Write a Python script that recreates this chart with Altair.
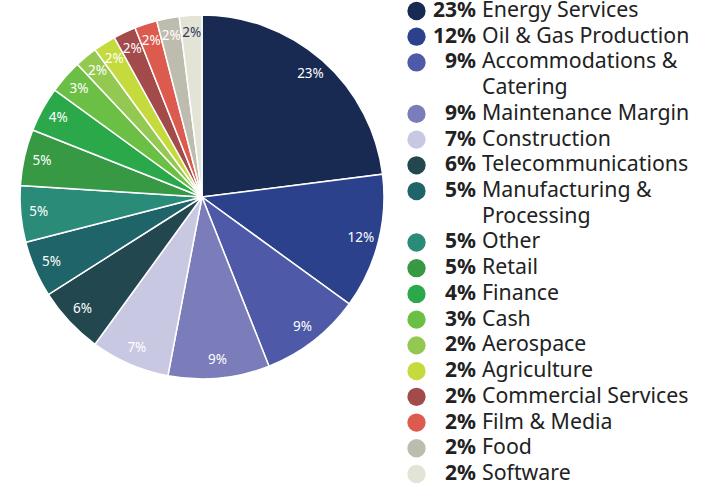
import altair as alt
import pandas as pd

sectors = ["Energy Services", "Oil & Gas Production", "Accommodations & Catering",
           "Maintenance Margin", "Construction", "Telecommunications",
           "Manufacturing & Processing", "Other", "Retail", "Finance", "Cash",
           "Aerospace", "Agriculture", "Commercial Services", "Film & Media",
           "Food", "Software"]
pcts = [23, 12, 9, 9, 7, 6, 5, 5, 5, 4, 3, 2, 2, 2, 2, 2, 2]
colors = ["#182a52", "#2b418c", "#4e5aa7", "#7a7db9", "#c9c8e3", "#23474f",
          "#1f6469", "#2a8c78", "#379944", "#2aa84a", "#6cbf45", "#93c951",
          "#c5db3d", "#a34a4b", "#dd5a4f", "#bebcae", "#e3e3d6"]
label_colors = ["white"] * 16 + ["#2d3b5c"]
# legend lines (second line for long names)
legend_lines = [["Energy Services"], ["Oil & Gas Production"], ["Accommodations &", "Catering"],
                ["Maintenance Margin"], ["Construction"], ["Telecommunications"],
                ["Manufacturing &", "Processing"], ["Other"], ["Retail"], ["Finance"],
                ["Cash"], ["Aerospace"], ["Agriculture"], ["Commercial Services"],
                ["Film & Media"], ["Food"], ["Software"]]

FONT = "Noto Sans"

pie_df = pd.DataFrame({
    "sector": sectors,
    "pct": pcts,
    "idx": list(range(len(sectors))),
    "label": [f"{p}%" for p in pcts],
    "lc": label_colors,
})

base = alt.Chart(pie_df).encode(
    theta=alt.Theta("pct:Q", stack=True),
    order=alt.Order("idx:Q"),
)
arcs = base.mark_arc(outerRadius=182, stroke="white", strokeWidth=1.5).encode(
    color=alt.Color("sector:N", scale=alt.Scale(domain=sectors, range=colors), legend=None)
)
labels = base.mark_text(radius=164, font=FONT, fontSize=13.5).encode(
    text="label:N",
    color=alt.Color("lc:N", scale=None),
)
pie = (arcs + labels).properties(width=404, height=394)

# legend data
rows_main, rows_line = [], []
r = 0
for i, lines in enumerate(legend_lines):
    rows_main.append({"row": r, "sector": sectors[i], "pct": f"{pcts[i]}%"})
    for j, ln in enumerate(lines):
        rows_line.append({"row": r + j, "text": ln})
    r += len(lines)
main_df = pd.DataFrame(rows_main)
line_df = pd.DataFrame(rows_line)

yscale = alt.Scale(domain=[-0.4277, 18.39], reverse=True)

dots = alt.Chart(main_df).mark_point(filled=True, opacity=1, size=335, shape="circle").encode(
    x=alt.value(12.5),
    y=alt.Y("row:Q", scale=yscale, axis=None),
    color=alt.Color("sector:N", scale=alt.Scale(domain=sectors, range=colors), legend=None),
)
pct_text = alt.Chart(main_df).mark_text(font=FONT, fontSize=21, fontWeight="bold",
                                        align="right", baseline="middle", color="#222222").encode(
    x=alt.value(72),
    y=alt.Y("row:Q", scale=yscale, axis=None),
    text="pct:N",
)
name_text = alt.Chart(line_df).mark_text(font=FONT, fontSize=21.3, align="left",
                                         baseline="middle", color="#222222").encode(
    x=alt.value(78),
    y=alt.Y("row:Q", scale=yscale, axis=None),
    text="text:N",
)
legend = (dots + pct_text + name_text).properties(width=302, height=484)

chart = alt.hconcat(pie, legend, spacing=0).properties(
    padding=0
).configure_view(stroke=None)

chart.save("out.html", embed_options={"renderer": "svg", "actions": False})
